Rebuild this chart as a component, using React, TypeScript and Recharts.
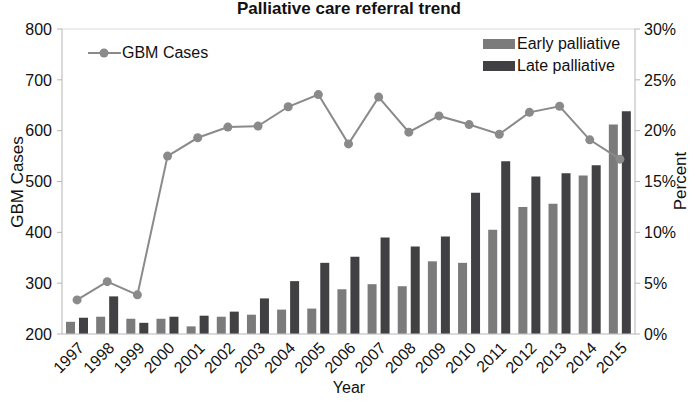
import { Bar, CartesianGrid, ComposedChart, Line, XAxis, YAxis } from "recharts";

const years = [
  "1997", "1998", "1999", "2000", "2001", "2002", "2003", "2004", "2005", "2006",
  "2007", "2008", "2009", "2010", "2011", "2012", "2013", "2014", "2015",
];
const gbmCases = [267, 303, 277, 550, 586, 607, 609, 647, 671, 574, 666, 597, 629, 612, 593, 636, 648, 582, 544];
const earlyPalliative = [1.2, 1.7, 1.5, 1.5, 0.75, 1.7, 1.9, 2.4, 2.5, 4.4, 4.9, 4.7, 7.15, 7.0, 10.25, 12.5, 12.8, 15.6, 20.6];
const latePalliative = [1.6, 3.7, 1.1, 1.7, 1.8, 2.2, 3.5, 5.2, 7.0, 7.6, 9.5, 8.6, 9.6, 13.9, 17.0, 15.5, 15.8, 16.6, 21.9];
const leftTicks = [200, 300, 400, 500, 600, 700, 800];
const rightTicks = [0, 5, 10, 15, 20, 25, 30];

const data = years.map((year, i) => ({
  year,
  gbm: gbmCases[i],
  early: earlyPalliative[i],
  late: latePalliative[i],
}));

const FONT = '"Liberation Sans", Arial, sans-serif';
const EARLY = "#7b7b7c";
const LATE = "#414143";
const LINE = "#8a8a8a";
const tickStyle = { fontSize: 16, fill: "#111", fontFamily: FONT };

export default function App() {
  return (
    <div style={{ position: "absolute", left: 0, top: 0, width: 700, height: 402, fontFamily: FONT, background: "#fff" }}>
      <div style={{ position: "absolute", left: 0, width: 698, top: 0, textAlign: "center", fontWeight: "bold", fontSize: 17, lineHeight: "18px", color: "#111" }}>
        Palliative care referral trend
      </div>
      <ComposedChart width={700} height={402} data={data} margin={{ top: 29, right: 0, bottom: 0, left: 0 }}>
        <CartesianGrid vertical={false} stroke="#d9d9d9" />
        <XAxis
          dataKey="year"
          height={68}
          interval={0}
          angle={-45}
          textAnchor="end"
          tickLine={false}
          tickSize={4}
          tickMargin={3}
          axisLine={{ stroke: "#c8c8c8" }}
          tick={{ ...tickStyle, fontSize: 16 }}
        />
        <YAxis
          yAxisId="left"
          width={62}
          domain={[200, 800]}
          ticks={leftTicks}
          interval={0}
          tickSize={5}
          tickMargin={5}
          axisLine={{ stroke: "#b5b5b5" }}
          tickLine={{ stroke: "#b5b5b5" }}
          tick={tickStyle}
        />
        <YAxis
          yAxisId="right"
          orientation="right"
          width={65}
          domain={[0, 30]}
          ticks={rightTicks}
          interval={0}
          tickFormatter={(v) => `${v}%`}
          tickSize={5}
          tickMargin={4}
          axisLine={{ stroke: "#b5b5b5" }}
          tickLine={{ stroke: "#b5b5b5" }}
          tick={tickStyle}
        />
        <Bar yAxisId="right" dataKey="early" fill={EARLY} barSize={9} isAnimationActive={false} />
        <Bar yAxisId="right" dataKey="late" fill={LATE} barSize={9} isAnimationActive={false} />
        <Line
          yAxisId="left"
          dataKey="gbm"
          stroke={LINE}
          strokeWidth={2}
          dot={{ r: 4.5, fill: LINE, stroke: LINE, strokeWidth: 0 }}
          isAnimationActive={false}
        />
      </ComposedChart>
      <div style={{ position: "absolute", left: 18, top: 182, transform: "translate(-50%, -50%) rotate(-90deg)", fontSize: 17, whiteSpace: "nowrap", color: "#111" }}>
        GBM Cases
      </div>
      <div style={{ position: "absolute", left: 681, top: 181, transform: "translate(-50%, -50%) rotate(-90deg)", fontSize: 17, whiteSpace: "nowrap", color: "#111" }}>
        Percent
      </div>
      <div style={{ position: "absolute", left: 349, top: 388, transform: "translate(-50%, -50%)", fontSize: 16, color: "#111" }}>
        Year
      </div>
      <div style={{ position: "absolute", left: 88, top: 44, height: 18, display: "flex", alignItems: "center", fontSize: 16, color: "#111" }}>
        <svg width={33} height={18}>
          <line x1={0} y1={9} x2={33} y2={9} stroke={LINE} strokeWidth={2} />
          <circle cx={16} cy={9} r={4.5} fill={LINE} />
        </svg>
        <span style={{ marginLeft: 1 }}>GBM Cases</span>
      </div>
      <div style={{ position: "absolute", left: 483, top: 35, height: 18, display: "flex", alignItems: "center", fontSize: 16, color: "#111" }}>
        <div style={{ width: 32, height: 10, background: EARLY }} />
        <span style={{ marginLeft: 2 }}>Early palliative</span>
      </div>
      <div style={{ position: "absolute", left: 483, top: 57, height: 18, display: "flex", alignItems: "center", fontSize: 16, color: "#111" }}>
        <div style={{ width: 32, height: 10, background: LATE }} />
        <span style={{ marginLeft: 2 }}>Late palliative</span>
      </div>
    </div>
  );
}
